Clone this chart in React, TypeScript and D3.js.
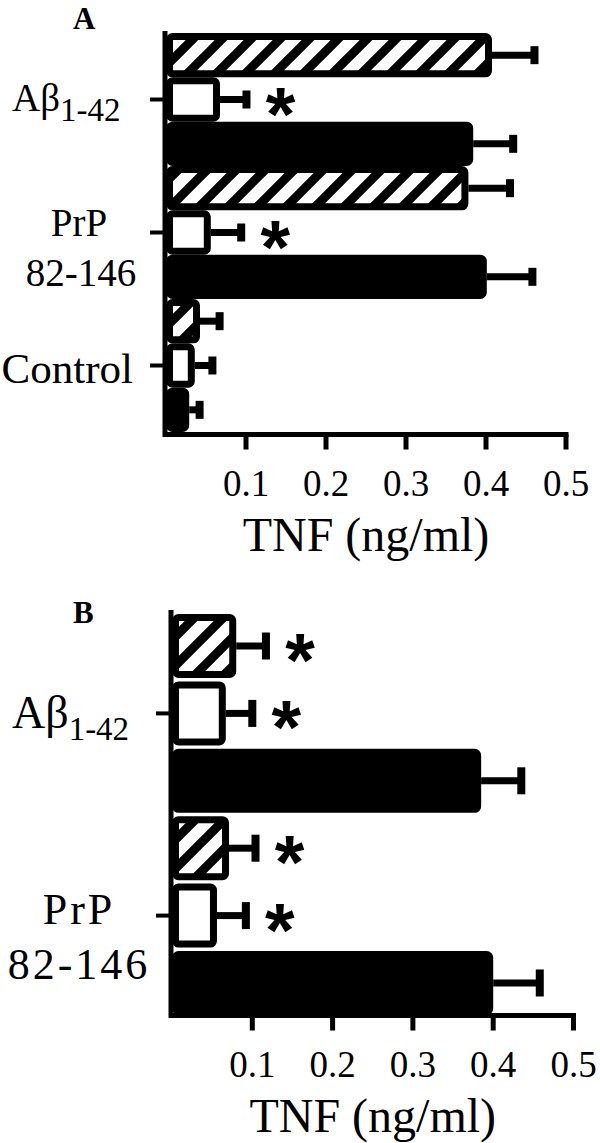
import * as d3 from 'd3';
import React from 'react';

// groups and bar kinds (top to bottom inside each group)
const kinds = ['hatched', 'open', 'solid'];
const xTicks = [0.1, 0.2, 0.3, 0.4, 0.5];

// panel A: mean TNF and the top of the error bar, per group x kind
const groupsA = ['Abeta', 'PrP', 'Control'];
const meansA = [
  [0.4075, 0.0675, 0.384],
  [0.378, 0.056, 0.401],
  [0.0425, 0.036, 0.029],
];
const upperA = [
  [0.4606, 0.1006, 0.434],
  [0.43, 0.094, 0.458],
  [0.067, 0.058, 0.042],
];
const starsA = [
  [false, true, false],
  [false, true, false],
  [false, false, false],
];

// panel B
const groupsB = ['Abeta', 'PrP'];
const meansB = [
  [0.08, 0.067, 0.385],
  [0.071, 0.056, 0.4],
];
const upperB = [
  [0.117, 0.1, 0.435],
  [0.104, 0.092, 0.458],
];
const starsB = [
  [true, true, false],
  [true, true, false],
];

const serif = 'Liberation Serif, Tinos, DejaVu Serif, Times New Roman, serif';
const sans = 'Liberation Sans, Arial, sans-serif';

function Panel({ cfg }) {
  const { groups, means, upper, stars, xRange, yRange, pad, axisY, yTop, capH, letter, letterY, big } = cfg;

  const x = d3.scaleLinear().domain([0, 0.5]).range(xRange);

  const bars = groups.flatMap((g, gi) =>
    kinds.map((k, ki) => ({
      key: `${g}-${k}`,
      group: g,
      kind: k,
      v: means[gi][ki],
      hi: upper[gi][ki],
      star: stars[gi][ki],
    }))
  );

  const y = d3.scaleBand().domain(bars.map(b => b.key)).range(yRange).paddingInner(pad);
  const bw = y.bandwidth();
  const sw = 7;
  const x0 = x(0);

  const fillFor = k => (k === 'solid' ? '#000' : k === 'open' ? '#fff' : 'url(#hatch)');

  return (
    <g>
      <text x={73} y={letterY} fontFamily={serif} fontWeight="bold" fontSize={31}>{letter}</text>

      {/* bars */}
      {bars.map(b => {
        const cy = y(b.key) + bw / 2;
        return (
          <g key={b.key}>
            <line x1={x(b.v)} x2={x(b.hi)} y1={cy} y2={cy} stroke="#000" strokeWidth={7} />
            <rect x={x(b.hi) - 4} y={cy - capH / 2} width={8} height={capH} fill="#000" />
            <rect
              x={x0 + sw / 2}
              y={y(b.key) + sw / 2}
              width={x(b.v) - x0 - sw}
              height={bw - sw}
              rx={3}
              fill={fillFor(b.kind)}
              stroke="#000"
              strokeWidth={sw}
            />
            {b.star && (
              <text
                x={x(b.hi) + 34}
                y={cy + 40}
                textAnchor="middle"
                fontFamily={sans}
                fontWeight="bold"
                fontSize={76}
              >
                *
              </text>
            )}
          </g>
        );
      })}

      {/* axes */}
      <line x1={x0 - 1} x2={x0 - 1} y1={yTop} y2={axisY + 2.5} stroke="#000" strokeWidth={5} />
      <line x1={x0 - 3} x2={x(0.5) + 2.5} y1={axisY} y2={axisY} stroke="#000" strokeWidth={5} />
      {xTicks.map(t => (
        <g key={t}>
          <line x1={x(t)} x2={x(t)} y1={axisY} y2={axisY + 15} stroke="#000" strokeWidth={5} />
          <text x={x(t)} y={axisY + 61} textAnchor="middle" fontFamily={serif} fontSize={37}>
            {d3.format('.1f')(t)}
          </text>
        </g>
      ))}
      <text x={(x(0) + x(0.5)) / 2} y={axisY + 116} textAnchor="middle" fontFamily={serif} fontSize={48}>
        TNF (ng/ml)
      </text>

      {/* category ticks at the middle bar of each group */}
      {groups.map(g => {
        const cy = y(`${g}-open`) + bw / 2;
        return <line key={g} x1={x0 - 16} x2={x0} y1={cy} y2={cy} stroke="#000" strokeWidth={4} />;
      })}

      {/* category labels */}
      {groups.map(g => {
        const cy = y(`${g}-open`) + bw / 2;
        if (g === 'Abeta') {
          return (
            <text key={g} x={12} y={cy + (big ? 15 : 11)} fontFamily={serif} fontSize={big ? 46 : 39}>
              Aβ
              <tspan fontSize={33} dy={big ? 12 : 10}>1-42</tspan>
            </text>
          );
        }
        if (g === 'PrP') {
          return (
            <text
              key={g}
              textAnchor="middle"
              fontFamily={serif}
              fontSize={big ? 44 : 39}
              letterSpacing={big ? 3 : 0}
            >
              <tspan x={79} y={cy + (big ? 8 : 3)}>PrP</tspan>
              <tspan x={big ? 79 : 81} y={cy + (big ? 63 : 53)}>82-146</tspan>
            </text>
          );
        }
        return (
          <text key={g} x={133} y={cy + 17} textAnchor="end" fontFamily={serif} fontSize={43}>
            Control
          </text>
        );
      })}
    </g>
  );
}

const panelA = {
  groups: groupsA,
  means: meansA,
  upper: upperA,
  stars: starsA,
  xRange: [166, 566],
  yRange: [33, 432],
  pad: 0,
  axisY: 434.5,
  yTop: 31,
  capH: 18,
  letter: 'A',
  letterY: 29,
  big: false,
};

const panelB = {
  groups: groupsB,
  means: meansB,
  upper: upperB,
  stars: starsB,
  xRange: [172, 573.5],
  yRange: [614, 1015],
  pad: 0.05,
  axisY: 1015.5,
  yTop: 610,
  capH: 27,
  letter: 'B',
  letterY: 623,
  big: true,
};

export default function App() {
  return (
    <svg
      width={600}
      height={1143}
      style={{ position: 'absolute', left: 0, top: 0, background: '#fff' }}
    >
      <defs>
        <pattern id="hatch" patternUnits="userSpaceOnUse" width={29} height={29}>
          <rect width={29} height={29} fill="#fff" />
          <path d="M-8,8 L8,-8 M0,29 L29,0 M21,37 L37,21" stroke="#000" strokeWidth={9} />
        </pattern>
      </defs>
      <Panel cfg={panelA} />
      <Panel cfg={panelB} />
    </svg>
  );
}
